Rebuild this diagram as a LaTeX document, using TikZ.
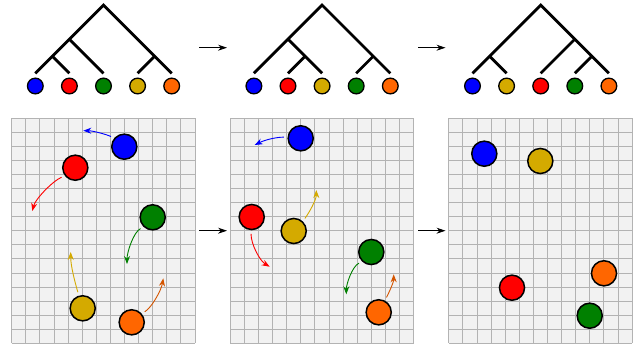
\documentclass[tikz,border=0pt]{standalone}
\usetikzlibrary{arrows.meta,calc}
\definecolor{cblue}{RGB}{0,0,255}
\definecolor{cred}{RGB}{255,0,0}
\definecolor{cgreen}{RGB}{0,128,0}
\definecolor{cyellow}{HTML}{D4AA00}
\definecolor{corange}{HTML}{FF6600}
\definecolor{carrow}{HTML}{D45500}
\definecolor{gridfill}{HTML}{F2F2F2}
\definecolor{gridline}{HTML}{B3B3B3}
\begin{document}
\begin{tikzpicture}[x=1pt,y=-1pt,
  leaf/.style={circle,draw=black,line width=1.3pt,minimum size=15.7pt,inner sep=0pt},
  ball/.style={circle,draw=black,line width=1.5pt,minimum size=25.1pt,inner sep=0pt},
  branch/.style={line width=2.8pt},
  move/.style={line width=0.9pt,-{Stealth[length=8pt,width=6pt]},shorten <=3.5pt},
  stage/.style={line width=0.8pt,-{Stealth[length=9pt,width=6pt]}},
  gridln/.style={draw=gridline,line width=0.9pt}]
\useasboundingbox (0,0) rectangle (639,348);

% grids
\foreach \gx in {11.7,230.25,448.8}{
  \fill[gridfill] (\gx,118.3) rectangle ++(13*14.1,16*14.06);
  \foreach \i in {0,...,13} \draw[gridln] (\gx+\i*14.1,118.3) -- ++(0,16*14.06);
  \foreach \j in {0,...,16} \draw[gridln] (\gx,118.3+\j*14.06) -- ++(13*14.1,0);
}

% ---------- tree 1 ----------
\def\s{34.1}
\def\xa{35.3}
\node[leaf,fill=cblue]   (l11) at (\xa,86) {};
\node[leaf,fill=cred]    (l12) at (\xa+\s,86) {};
\node[leaf,fill=cgreen]  (l13) at (\xa+2*\s,86) {};
\node[leaf,fill=cyellow] (l14) at (\xa+3*\s,86) {};
\node[leaf,fill=corange] (l15) at (\xa+4*\s,86) {};
\foreach \k in {1,...,5} \coordinate (t1\k) at ($(l1\k)+(0,-12.7)$);
\coordinate (r1) at (\xa+2*\s,73.3-2*\s);
\coordinate (a1) at (\xa+\s,73.3-\s);
\coordinate (b1n) at (\xa+0.5*\s,73.3-0.5*\s);
\coordinate (c1) at (\xa+3.5*\s,73.3-0.5*\s);
\draw[branch] (t11) -- (r1) -- (t15);
\draw[branch] (a1) -- (t13);
\draw[branch] (b1n) -- (t12);
\draw[branch] (c1) -- (t14);

% ---------- tree 2 ----------
\def\xb{253.9}
\node[leaf,fill=cblue]   (l21) at (\xb,86) {};
\node[leaf,fill=cred]    (l22) at (\xb+\s,86) {};
\node[leaf,fill=cyellow] (l23) at (\xb+2*\s,86) {};
\node[leaf,fill=cgreen]  (l24) at (\xb+3*\s,86) {};
\node[leaf,fill=corange] (l25) at (\xb+4*\s,86) {};
\foreach \k in {1,...,5} \coordinate (t2\k) at ($(l2\k)+(0,-12.7)$);
\coordinate (r2n) at (\xb+2*\s,73.3-2*\s);
\coordinate (a2) at (\xb+\s,73.3-\s);
\coordinate (b2n) at (\xb+1.5*\s,73.3-0.5*\s);
\coordinate (c2) at (\xb+3.5*\s,73.3-0.5*\s);
\draw[branch] (t21) -- (r2n) -- (t25);
\draw[branch] (a2) -- (t23);
\draw[branch] (b2n) -- (t22);
\draw[branch] (c2) -- (t24);

% ---------- tree 3 ----------
\def\xc{472.5}
\node[leaf,fill=cblue]   (l31) at (\xc,86) {};
\node[leaf,fill=cyellow] (l32) at (\xc+\s,86) {};
\node[leaf,fill=cred]    (l33) at (\xc+2*\s,86) {};
\node[leaf,fill=cgreen]  (l34) at (\xc+3*\s,86) {};
\node[leaf,fill=corange] (l35) at (\xc+4*\s,86) {};
\foreach \k in {1,...,5} \coordinate (t3\k) at ($(l3\k)+(0,-12.7)$);
\coordinate (r3n) at (\xc+2*\s,73.3-2*\s);
\coordinate (a3) at (\xc+3*\s,73.3-\s);
\coordinate (b3n) at (\xc+0.5*\s,73.3-0.5*\s);
\coordinate (c3) at (\xc+3.5*\s,73.3-0.5*\s);
\draw[branch] (t31) -- (r3n) -- (t35);
\draw[branch] (b3n) -- (t32);
\draw[branch] (a3) -- (t33);
\draw[branch] (c3) -- (t34);

% ---------- stage arrows ----------
\coordinate (ta1) at (199.3,47.7); \coordinate (ta2) at (227,47.7);
\coordinate (ta3) at (418,47.7);   \coordinate (ta4) at (445.5,47.7);
\coordinate (ga1) at (199.3,230.7); \coordinate (ga2) at (227,230.7);
\coordinate (ga3) at (418,230.7);   \coordinate (ga4) at (445.5,230.7);
\draw[stage] (ta1) -- (ta2);
\draw[stage] (ta3) -- (ta4);
\draw[stage] (ga1) -- (ga2);
\draw[stage] (ga3) -- (ga4);

% ---------- balls ----------
\node[ball,fill=cblue]   (bb1) at (124.3,146.7) {};
\node[ball,fill=cred]    (rr1) at (75.3,167.7) {};
\node[ball,fill=cgreen]  (gg1) at (152.7,217.3) {};
\node[ball,fill=cyellow] (yy1) at (82.7,308.3) {};
\node[ball,fill=corange] (oo1) at (131.7,322.3) {};

\node[ball,fill=cblue]   (bb2) at (300.7,138.3) {};
\node[ball,fill=cred]    (rr2) at (251.7,217) {};
\node[ball,fill=cyellow] (yy2) at (293.7,231) {};
\node[ball,fill=cgreen]  (gg2) at (371.3,252) {};
\node[ball,fill=corange] (oo2) at (378.7,312.3) {};

\node[ball,fill=cblue]   (bb3) at (484.3,153.7) {};
\node[ball,fill=cyellow] (yy3) at (540.3,161) {};
\node[ball,fill=corange] (oo3) at (604,273.3) {};
\node[ball,fill=cred]    (rr3) at (512,287.7) {};
\node[ball,fill=cgreen]  (gg3) at (589.7,315.7) {};

% ---------- motion arrows ----------
\coordinate (eb1) at (83.3,130.7);
\coordinate (er1) at (32.3,211);
\coordinate (eg1) at (127,264);
\coordinate (ey1) at (70.7,252);
\coordinate (eo1) at (163.3,278.3);
\draw[move,cblue]   (bb1.139) .. controls +(-9,-4) and +(9,0) .. (eb1);
\draw[move,cred]    (rr1.218) .. controls +(-12,5) and +(3,-12) .. (er1);
\draw[move,cgreen]  (gg1.227) .. controls +(-10,5) and +(0,-12) .. (eg1);
\draw[move,cyellow] (yy1.107) .. controls +(-4,-14) and +(0,14) .. (ey1);
\draw[move,carrow]  (oo1.41) .. controls +(10,-6) and +(-2,12) .. (eo1);

\coordinate (eb2) at (254.7,145);
\coordinate (ey2) at (316.3,190);
\coordinate (er2) at (269.7,266.7);
\coordinate (eg2) at (346.3,294.3);
\coordinate (eo2) at (393.7,274.3);
\draw[move,cblue]   (bb2.175) .. controls +(-12,0) and +(10,-5) .. (eb2);
\draw[move,cyellow] (yy2.47) .. controls +(6,-8) and +(0,10) .. (ey2);
\draw[move,cred]    (rr2.267) .. controls +(0,14) and +(-10,-6) .. (er2);
\draw[move,cgreen]  (gg2.226) .. controls +(-10,5) and +(0,-10) .. (eg2);
\draw[move,carrow]  (oo2.62) .. controls +(4,-8) and +(0,8) .. (eo2);
\end{tikzpicture}
\end{document}
